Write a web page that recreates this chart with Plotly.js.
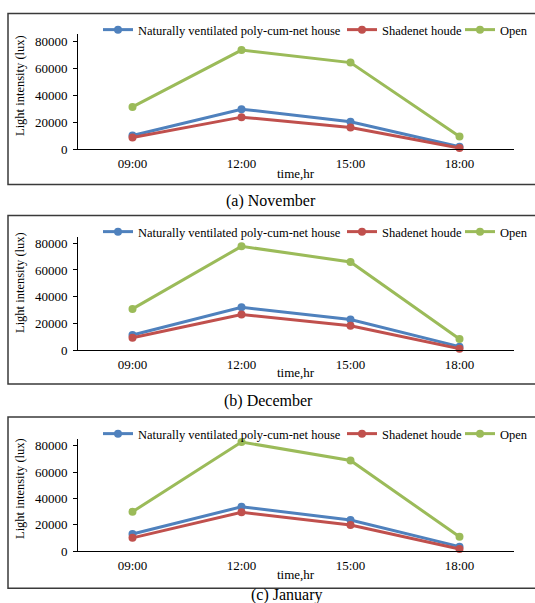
<!DOCTYPE html>
<html>
<head>
<meta charset="utf-8">
<script src="https://cdn.plot.ly/plotly-3.0.1.min.js"></script>
<style>html,body{margin:0;padding:0;background:#fff;}#chart{width:535px;height:603px;}</style>
</head>
<body>
<div id="chart"></div>
<script>
// ---- data ----
const times = ["09:00", "12:00", "15:00", "18:00"];
const seriesNames = ["Naturally ventilated poly-cum-net house", "Shadenet houde", "Open"];
const novNatVent = [10000, 29500, 20200, 1700];
const novShadenet = [8500, 23600, 15900, 700];
const novOpen = [31200, 73300, 64000, 9200];
const decNatVent = [11200, 32000, 22800, 2500];
const decShadenet = [9200, 26600, 18200, 1000];
const decOpen = [30800, 77700, 66000, 8300];
const janNatVent = [12900, 33600, 23600, 3300];
const janShadenet = [10000, 29400, 19800, 1500];
const janOpen = [29800, 82800, 68800, 10800];
const captions = ["(a) November", "(b) December", "(c) January"];
const yTitle = "Light intensity (lux)";
const xTitle = "time,hr";

// ---- styling ----
const W = 535, H = 603;
const px = v => v / W;
const py = v => 1 - v / H;
const colors = ["#4F81BD", "#C0504D", "#9BBB59"];
const legendWidths = [199, 73, 30];
const FONT = "Liberation Serif, Times New Roman, serif";

const panels = [
  {data: [novNatVent, novShadenet, novOpen], yTop: 34.25, yBot: 149, box: [13.5, 184.5], leg: 30, ytitle: 86, xtitle: 173, cap: [271, 201]},
  {data: [decNatVent, decShadenet, decOpen], yTop: 236.6, yBot: 350, box: [215.5, 384], leg: 232, ytitle: 283, xtitle: 372, cap: [268.5, 400.5]},
  {data: [janNatVent, janShadenet, janOpen], yTop: 439.1, yBot: 551, box: [417, 588.3], leg: 434, ytitle: 489, xtitle: 574, cap: [287, 594.5]}
];

const traces = [];
const layout = {
  width: W, height: H,
  margin: {l: 0, r: 0, t: 0, b: 0},
  paper_bgcolor: "#ffffff",
  plot_bgcolor: "rgba(0,0,0,0)",
  font: {family: FONT, size: 13, color: "#000"},
  shapes: [],
  annotations: []
};

panels.forEach((p, i) => {
  const n = i + 1;
  const xa = n === 1 ? "x" : "x" + n;
  const ya = n === 1 ? "y" : "y" + n;
  const legName = n === 1 ? "legend" : "legend" + n;
  p.data.forEach((vals, s) => {
    traces.push({
      type: "scatter", mode: "lines+markers",
      x: times, y: vals, xaxis: xa, yaxis: ya,
      name: seriesNames[s], legend: legName, legendwidth: legendWidths[s],
      line: {color: colors[s], width: 3},
      marker: {color: colors[s], size: 8},
      cliponaxis: false
    });
  });
  layout["xaxis" + (n === 1 ? "" : n)] = {
    domain: [px(78), px(514)], anchor: ya, type: "category",
    range: [-0.5, 3.5], showline: true, linecolor: "#000", linewidth: 1,
    showgrid: false, zeroline: false, ticks: "", ticklabelstandoff: 2,
    tickfont: {family: FONT, size: 13, color: "#000"}, fixedrange: true
  };
  layout["yaxis" + (n === 1 ? "" : n)] = {
    domain: [py(p.yBot), py(p.yTop)], anchor: xa,
    range: [0, 85000], tickvals: [0, 20000, 40000, 60000, 80000],
    ticktext: ["0", "20000", "40000", "60000", "80000"],
    showline: true, linecolor: "#000", linewidth: 1,
    showgrid: false, zeroline: false, ticks: "outside", ticklen: 4,
    tickcolor: "#000", ticklabelstandoff: 3,
    tickfont: {family: FONT, size: 13, color: "#000"}, fixedrange: true
  };
  layout[legName] = {
    orientation: "h", x: 1, xanchor: "right", y: py(p.leg), yanchor: "middle",
    bgcolor: "rgba(0,0,0,0)", font: {family: FONT, size: 12.5, color: "#000"},
    itemwidth: 30, tracegroupgap: 0
  };
  layout.shapes.push({
    type: "rect", xref: "paper", yref: "paper",
    x0: px(8), x1: px(540), y0: py(p.box[1]), y1: py(p.box[0]),
    line: {color: "#3a3a3a", width: 1.5}, fillcolor: "rgba(0,0,0,0)"
  });
  layout.annotations.push({
    text: yTitle, xref: "paper", yref: "paper", x: px(20), y: py(p.ytitle),
    textangle: -90, showarrow: false, xanchor: "center", yanchor: "middle",
    font: {family: FONT, size: 12.5, color: "#000"}
  });
  layout.annotations.push({
    text: xTitle, xref: "paper", yref: "paper", x: px(296), y: py(p.xtitle),
    showarrow: false, xanchor: "center", yanchor: "middle",
    font: {family: FONT, size: 13, color: "#000"}
  });
  layout.annotations.push({
    text: captions[i], xref: "paper", yref: "paper", x: px(p.cap[0]), y: py(p.cap[1]),
    showarrow: false, xanchor: "center", yanchor: "middle",
    font: {family: FONT, size: 16, color: "#000"}
  });
});

Plotly.newPlot("chart", traces, layout, {displayModeBar: false, staticPlot: true});
</script>
</body>
</html>
